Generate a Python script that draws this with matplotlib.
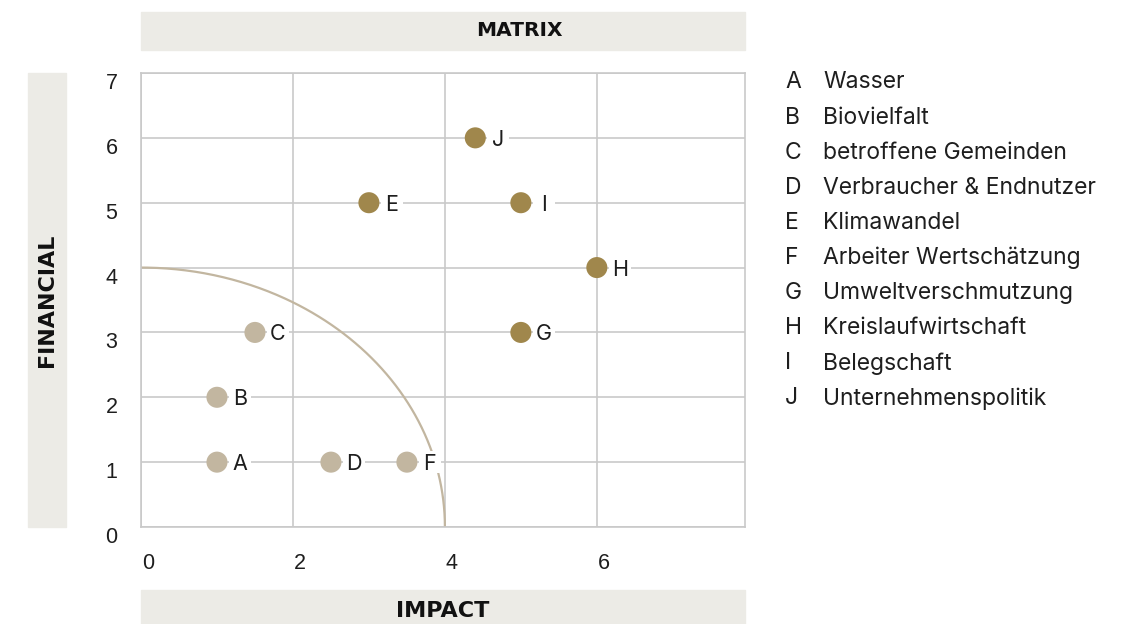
import numpy as np
import matplotlib
matplotlib.use("Agg")
import matplotlib.pyplot as plt
from matplotlib.patches import Rectangle
from matplotlib.transforms import offset_copy, ScaledTranslation

codes = ["A", "B", "C", "D", "E", "F", "G", "H", "I", "J"]
names = ["Wasser", "Biovielfalt", "betroffene Gemeinden", "Verbraucher & Endnutzer",
         "Klimawandel", "Arbeiter Wertschätzung", "Umweltverschmutzung",
         "Kreislaufwirtschaft", "Belegschaft", "Unternehmenspolitik"]
impact = [1, 1, 1.5, 2.5, 3, 3.5, 5, 6, 5, 4.4]
financial = [1, 2, 3, 1, 5, 1, 3, 4, 5, 6]
material = [False, False, False, False, True, False, True, True, True, True]
threshold = 4

light = "#C2B6A0"
dark = "#A0874C"
band = "#ECEBE6"
grid_col = "#C9C9C9"
ink = "#1E1E1E"

plt.rcParams["font.family"] = ["Inter", "DejaVu Sans"]
num_font = ["Liberation Sans", "DejaVu Sans"]
head_font = ["DejaVu Sans"]

fig = plt.figure(figsize=(11.31, 6.24), dpi=100)
ax = fig.add_axes([141 / 1131, 97 / 624, 604 / 1131, 454 / 624])

ax.set_xlim(0, 7.95)
ax.set_ylim(0, 7)
ax.set_xticks([0, 2, 4, 6])
ax.set_yticks(range(8))
ax.grid(True, color=grid_col, lw=1.2)
ax.set_axisbelow(True)
for s in ax.spines.values():
    s.set_color(grid_col)
    s.set_linewidth(1.2)
ax.tick_params(length=0, labelsize=15.5, colors=ink)
ax.tick_params(axis="x", pad=19)
ax.tick_params(axis="y", pad=17)
for lab in ax.get_xticklabels():
    lab.set_family(num_font)
    lab.set_transform(lab.get_transform() + ScaledTranslation(0.07, 0, fig.dpi_scale_trans))
for lab in ax.get_yticklabels():
    lab.set_family(num_font)
    lab.set_transform(lab.get_transform() + ScaledTranslation(0, -0.08, fig.dpi_scale_trans))

# threshold arc
t = np.linspace(0, np.pi / 2, 300)
ax.plot(threshold * np.cos(t), threshold * np.sin(t), color=light, lw=1.6, zorder=2)

cols = [dark if m else light for m in material]
ax.scatter(impact, financial, s=230, color=cols, zorder=4, linewidths=0)

# white boxes behind the letters
lab_tr = offset_copy(ax.transData, fig=fig, x=23, y=0, units="dots")
ax.scatter(impact, financial, s=250, marker="s", color="white", transform=lab_tr,
           zorder=3, linewidths=0)
for c, x, y in zip(codes, impact, financial):
    ax.text(x, y, c, transform=lab_tr, ha="center", va="center_baseline",
            fontsize=15.5, color=ink, zorder=5)

# header / side bands
fig.patches.append(Rectangle((141 / 1131, 574 / 624), 604 / 1131, 38 / 624,
                             transform=fig.transFigure, color=band, zorder=0))
fig.patches.append(Rectangle((141 / 1131, 0), 604 / 1131, 34 / 624,
                             transform=fig.transFigure, color=band, zorder=0))
fig.patches.append(Rectangle((28 / 1131, 97 / 624), 38 / 1131, 454 / 624,
                             transform=fig.transFigure, color=band, zorder=0))
fig.text(519 / 1131, 593 / 624, "MATRIX", ha="center", va="center", family=head_font,
         fontsize=14.5, fontweight="bold", color="#111111")
fig.text(443 / 1131, 13 / 624, "IMPACT", ha="center", va="center", family=head_font,
         fontsize=16, fontweight="bold", color="#111111")
fig.text(47 / 1131, 324 / 624, "FINANCIAL", ha="center", va="center", rotation=90,
         family=head_font, fontsize=16, fontweight="bold", color="#111111")

# legend list
for i, (c, n) in enumerate(zip(codes, names)):
    yy = (624 - (80 + 35.1 * i)) / 624
    fig.text(785 / 1131, yy, c, ha="left", va="center_baseline", fontsize=16.5, color=ink)
    fig.text(823 / 1131, yy, n, ha="left", va="center_baseline", fontsize=16.5, color=ink)

fig.savefig("out.png", dpi=100)
